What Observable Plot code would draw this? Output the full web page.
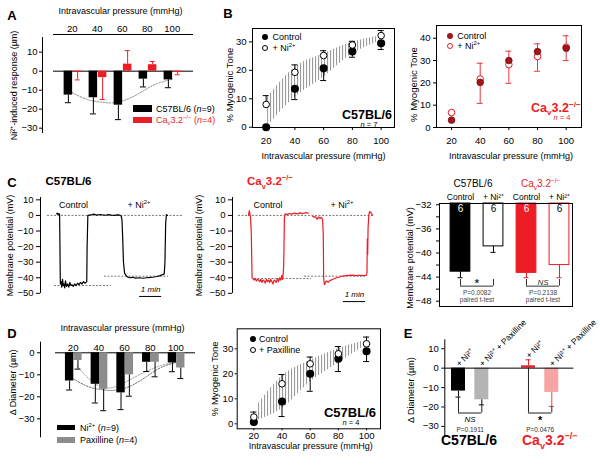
<!DOCTYPE html>
<html>
<head>
<meta charset="utf-8">
<script src="https://cdn.jsdelivr.net/npm/d3@7"></script>
<script src="https://cdn.jsdelivr.net/npm/@observablehq/plot@0.6"></script>
<style>
  html, body { margin: 0; padding: 0; background: #fff; }
  #fig { position: relative; width: 600px; height: 470px; overflow: hidden; background: #fff;
         font-family: "Liberation Sans", Arial, Helvetica, sans-serif; color: #000; }
  #fig > svg { position: absolute; left: 0; top: 0; overflow: visible; background: transparent; }
  .lab { position: absolute; white-space: nowrap; line-height: 1; }
  .lab sub, .lab sup { font-size: 65%; line-height: 0; }
  .box { position: absolute; box-sizing: border-box; }
</style>
</head>
<body>
<div id="fig"></div>
<script>
// ======================= DATA =======================
const pressures = [20, 40, 60, 80, 100];

// Panel A: Ni2+-induced response (um)
const aWt = [-12.6, -14.0, -17.9, -4.2, -4.6];
const aWtErr = [-16.6, -22.5, -25.5, -8.3, -8.7];
const aKo = [-0.7, -3.4, 3.7, 3.4, -0.7];
const aKoErr = [-4.6, -14.9, 10.8, 5.1, -1.9];
const aFitP = [20, 32, 43, 53, 65, 77, 88, 100];
const aFitV = [-11.3, -14.9, -16.3, -16.6, -14.5, -10.3, -6.5, -4.3];

// Panel B left: C57BL/6 myogenic tone (%)
const bCtrl = [0, 13.5, 20.7, 26.6, 29.5];
const bCtrlLo = [0, 9.7, 16.4, 24.6, 27.3];
const bNi = [8.0, 19.3, 25.2, 28.9, 32.2];
const bNiHi = [11.1, 21.9, 26.9, 30.2, 34.0];
const bBandP = [21, 40, 60, 80, 97];
const bBandLo = [0.3, 10.5, 17.6, 25.8, 29.9];
const bBandHi = [10.5, 21.0, 25.8, 29.9, 31.9];

// Panel B right: Cav3.2-/- myogenic tone (%)
const brCtrl = [3.3, 20.2, 30.0, 34.0, 35.5];
const brCtrlHi = [3.3, 28.8, 34.2, 37.5, 41.1];
const brNi = [6.7, 21.7, 28.2, 31.8, 36.0];
const brNiLo = [6.7, 10.8, 19.8, 25.2, 30.0];

// Panel C traces: time (s), membrane potential (mV)
const cBlkT = [25, 27, 29, 31, 33, 34, 35, 37, 39, 41, 43, 45, 47, 49, 52, 55, 58, 61, 64, 67, 70, 74, 78, 82, 86, 90, 94, 98, 102, 105, 107, 108, 110, 118, 126, 134, 142, 150, 158, 166, 174, 182, 190, 197, 201, 203, 205, 207, 210, 214, 218, 224, 232, 240, 250, 260, 270, 280, 290, 298, 305, 310, 314, 318, 320, 322, 324, 327];
const cBlkV = [1, 1.5, 0.5, 1.2, 0.5, -20, -44, -42.5, -46, -41, -45, -44, -46.5, -42, -45.5, -44, -46, -43, -45, -44.5, -45.5, -44, -45, -43.5, -44.5, -43, -44, -42.5, -43.5, -43, -42.5, -20, 0, 0.3, 0.8, 0.2, 0.6, 0.3, 0.1, 0.5, 0.2, 0, 0.4, 0.2, -0.5, -3, -15, -30, -37, -38.5, -39.5, -40, -39.7, -40.2, -40, -40.3, -40, -39.8, -39.5, -39.2, -38.8, -38.3, -38, -37.5, -30, -5, 0.5, 0];
const cBlkRefV = [0, -45, -39];
const cBlkRefT1 = [0, 19, 155];
const cBlkRefT2 = [371, 174, 330];
const cBlkScale = {t1: 251, t2: 311, v: -52};

const cRedT = [27, 29, 30, 31, 33, 35, 37, 40, 43, 46, 49, 52, 55, 58, 61, 64, 67, 70, 73, 76, 79, 82, 85, 88, 91, 94, 97, 100, 103, 106, 109, 112, 115, 118, 120, 122, 123, 124, 125, 127, 132, 138, 145, 152, 160, 168, 176, 184, 191, 196, 202, 206, 210, 214, 218, 222, 226, 229, 231, 232, 234, 237, 240, 244, 248, 252, 257, 262, 268, 275, 282, 290, 300, 310, 320, 330, 340, 348, 350, 351, 352, 353, 355, 357, 360, 363, 365];
const cRedV = [0, 2.5, 3, 1, -1.5, -12, -40, -40.5, -41.5, -40.5, -42, -41, -41.5, -42.5, -41, -43, -41.5, -42, -43.5, -41, -42.5, -41.5, -43, -41, -42.5, -44, -41.5, -42, -43, -40.5, -42.5, -40, -41.5, -38.5, -41, -37, -33, -20, -2, 1, 0.5, 1.2, 0.8, 1.5, 1, 1.6, 1.2, 1.8, 1.4, NaN, -0.5, -1.2, -0.8, -2.5, -1, -2, -1.3, -2.5, -12, -40, -44.5, -43, -42, -43, -42, -41.5, -41, -40.5, -40, -39.5, -39, -38.8, -38.5, -38.3, -38.6, -38.4, -38.6, -38.5, -37, -15, -25, -8, 0, 2.5, 2, 1, 0];
const cRedRefV = [0, -40.5, -39];
const cRedRefT1 = [0, 44, 180];
const cRedRefT2 = [365, 199, 346];
const cRedScale = {t1: 286, t2: 346, v: -55.3};

// Panel C bars: membrane potential (mV)
const cTreat = ["Control", "+ Ni²⁺", "Control", "+ Ni²⁺"];
const cVm = [-43.1, -38.9, -43.3, -42.0];
const cVmErr = [-44.1, -39.9, -44.1, -44.1];
const cN = [6, 6, 6, 6];
const cSig = ["*", "NS"];
const cP = ["P=0.0082", "P=0.2138"];
const cTest = ["paired t-test", "paired t-test"];
const cBracketY = [-45.5, -45.5];

// Panel D left: delta diameter (um)
const dNi = [-12.8, -14.3, -18.2, -4.3, -4.6];
const dNiErr = [-16.9, -22.8, -25.8, -8.5, -8.6];
const dPax = [-3.5, -16.6, -10.0, -4.3, -6.9];
const dPaxErr = [-7.4, -26.3, -19.7, -10.9, -11.7];
const dFitNiP = [20, 32, 43, 53, 65, 77, 88, 100];
const dFitNiV = [-11.8, -15.4, -16.8, -17.0, -15.0, -10.8, -6.8, -4.4];
const dFitPaxP = [23, 30, 40, 50, 60, 75, 90, 100];
const dFitPaxV = [-6.0, -10.5, -15.0, -15.8, -13.5, -9.0, -5.5, -4.5];

// Panel D middle: myogenic tone (%) with paxilline
const dmCtrl = [0.7, 8.9, 20.0, 26.0, 29.0];
const dmCtrlLo = [0.7, 2.9, 13.0, 20.9, 24.9];
const dmPax = [2.7, 16.0, 24.0, 28.0, 32.0];
const dmPaxHi = [4.7, 19.7, 26.7, 30.9, 34.7];
const dmBandP = [22, 40, 60, 80, 97];
const dmBandLo = [1.3, 6.0, 16.7, 24.3, 30.5];
const dmBandHi = [7.0, 19.0, 25.3, 30.0, 33.0];

// Panel E: delta diameter (um)
const eTreat = ["+ Ni²⁺", "+ Ni²⁺ + Paxilline", "+ Ni²⁺", "+ Ni²⁺ + Paxilline"];
const eVal = [-11.8, -16.3, 1.2, -12.5];
const eErr = [-14.9, -18.9, 4.3, -19.7];
const eSig = ["NS", "*"];
const eP = ["P=0.1911", "P=0.0476"];
const eBracketY = [-23.1, -23.1];

// ======================= STYLE =======================
const FONT = '"Liberation Sans", Arial, Helvetica, sans-serif';
const RED = "#ee1c25";
const DARKRED = "#a3141b";
const cFill = ["#000", "#fff", RED, "#fff"];
const cStroke = ["#000", "#000", RED, RED];
const cNumColor = ["#fff", "#000", "#fff", "#000"];
const eFill = ["#000", "#b4b4b4", RED, "#f6a4a4"];
const eErrColor = ["#000", "#000", RED, "#e8484e"];

const fig = document.getElementById("fig");

function plot(opts) {
  const svg = Plot.plot({
    width: 600, height: 470,
    style: {fontFamily: FONT, fontSize: "9px", background: "transparent", overflow: "visible"},
    color: {type: "identity"},
    ...opts
  });
  svg.style.position = "absolute";
  svg.style.left = "0px";
  svg.style.top = "0px";
  fig.appendChild(svg);
  return svg;
}
function hatch(svg, id) {
  const ns = "http://www.w3.org/2000/svg";
  const defs = document.createElementNS(ns, "defs");
  defs.innerHTML = `<pattern id="${id}" patternUnits="userSpaceOnUse" width="3" height="6"><rect x="0" y="0" width="1.1" height="6" fill="#9a9a9a"/></pattern>`;
  svg.insertBefore(defs, svg.firstChild);
}
function label(html, x, y, o = {}) {
  const el = document.createElement("div");
  el.className = "lab";
  el.innerHTML = html;
  const tx = o.anchor === "start" ? "0" : o.anchor === "end" ? "-100%" : "-50%";
  el.style.left = x + "px";
  el.style.top = y + "px";
  el.style.fontSize = (o.size || 9) + "px";
  el.style.fontWeight = o.bold ? "bold" : "normal";
  el.style.fontStyle = o.italic ? "italic" : "normal";
  el.style.color = o.color || "#000";
  el.style.transform = `translate(${tx},-50%)`;
  fig.appendChild(el);
}
function box(x, y, w, h, css) {
  const el = document.createElement("div");
  el.className = "box";
  el.style.left = x + "px"; el.style.top = y + "px";
  el.style.width = w + "px"; el.style.height = h + "px";
  Object.assign(el.style, css);
  fig.appendChild(el);
}
function errBars(data, {x, y1, y2, stroke = "#000", half = 3}) {
  return [
    Plot.ruleX(data, {x, y1, y2, stroke, strokeWidth: 1}),
    Plot.ruleY(data, {y: y2, x1: x, x2: x, insetLeft: -half, insetRight: -half, stroke, strokeWidth: 1})
  ];
}
function yTitle(text, dx, dy = 0, size = 9) {
  return Plot.text([text], {text: d => d, frameAnchor: "left", textAnchor: "middle", lineAnchor: "middle", rotate: -90, dx, dy, fontSize: size});
}
const CAV = 'Ca<sub>v</sub>3.2<sup>−/−</sup>';

// ======================= PANEL A =======================
const aTab = pressures.map((p, i) => ({p, wt: aWt[i], wtErr: aWtErr[i], ko: aKo[i], koErr: aKoErr[i]}));
const aFit = aFitP.map((p, i) => ({p, v: aFitV[i]}));
const aX = [-3.8, 117], aY = [-32.8, 19.3];
plot({
  marginLeft: 42, marginRight: 407, marginTop: 34, marginBottom: 337,
  x: {domain: aX, axis: null}, y: {domain: aY, axis: null},
  marks: [
    Plot.ruleY([aY[1]], {insetLeft: 11}),
    Plot.ruleY([0], {insetLeft: 11}),
    Plot.ruleX([aX[0]], {insetTop: 3}),
    Plot.axisX({anchor: "top", ticks: pressures, tickSize: 0, tickPadding: 3, label: null, fontSize: 9.5}),
    Plot.axisY({ticks: [10, 0, -10, -20, -30], tickSize: 3, tickPadding: 2, label: null, fontSize: 9.5}),
    Plot.line(aFit, {x: "p", y: "v", curve: "natural", stroke: "#8a8a8a", strokeDasharray: "1.5,1.5", strokeWidth: 1}),
    Plot.rect(aTab, {x1: d => d.p - 6.5, x2: d => d.p + 0.3, y1: 0, y2: "wt", fill: "#000"}),
    Plot.rect(aTab, {x1: d => d.p + 0.9, x2: d => d.p + 7.7, y1: 0, y2: "ko", fill: RED}),
    ...errBars(aTab, {x: d => d.p - 3.1, y1: "wt", y2: "wtErr", stroke: "#000"}),
    ...errBars(aTab, {x: d => d.p + 4.3, y1: "ko", y2: "koErr", stroke: RED, half: 2.5}),
    Plot.text(["Intravascular pressure (mmHg)"], {text: d => d, frameAnchor: "top", lineAnchor: "middle", dy: -23, dx: 2.5, fontSize: 9}),
    yTitle("Ni²⁺-induced response (µm)", -28, 1.5)
  ]
});
label("A", 12, 15, {bold: true, size: 13});
box(133, 105, 19, 7, {background: "#000"});
label('C57BL/6 (<i>n</i>=9)', 156, 108.5, {anchor: "start", size: 9});
box(133, 117, 19, 6, {background: RED});
label(CAV + ' (<i>n</i>=4)', 156, 120, {anchor: "start", size: 9, color: RED});

// ======================= PANEL B left =======================
const bTab = pressures.map((p, i) => ({p, c: bCtrl[i], cLo: bCtrlLo[i], n: bNi[i], nHi: bNiHi[i]}));
const bBand = bBandP.map((p, i) => ({p, lo: bBandLo[i], hi: bBandHi[i]}));
const bX = [10.5, 109.3], bY = [-0.1, 34.7];
const svgB = plot({
  marginLeft: 252, marginRight: 206, marginTop: 28, marginBottom: 343,
  x: {domain: bX, axis: null}, y: {domain: bY, axis: null},
  marks: [
    Plot.areaY(bBand, {x: "p", y1: "lo", y2: "hi", curve: "monotone-x", fill: "url(#hatchB)"}),
    Plot.frame({stroke: "#000"}),
    Plot.axisX({ticks: pressures, tickSize: 3, tickPadding: 7, label: null, fontSize: 9.5}),
    Plot.axisY({ticks: [0, 10, 20, 30], tickSize: 3, tickPadding: 3, label: null, fontSize: 9.5}),
    ...errBars(bTab.filter(d => d.cLo < d.c), {x: "p", y1: "c", y2: "cLo"}),
    ...errBars(bTab, {x: "p", y1: "n", y2: "nHi"}),
    Plot.dot(bTab, {x: "p", y: "c", r: 3.3, fill: "#000", stroke: "#000"}),
    Plot.dot(bTab, {x: "p", y: "n", r: 3.3, fill: "#fff", stroke: "#000", strokeWidth: 1}),
    Plot.text(["Intravascular pressure (mmHg)"], {text: d => d, frameAnchor: "bottom", lineAnchor: "middle", dy: 29, fontSize: 9}),
    yTitle("% Myogenic Tone", -23, 7, 9.5)
  ]
});
hatch(svgB, "hatchB");
label("B", 228, 13, {bold: true, size: 13});
box(262.3, 34.3, 6, 6, {background: "#000", borderRadius: "50%"});
label("Control", 272.5, 37.3, {anchor: "start", size: 9});
box(262.3, 45.3, 6, 6, {background: "#fff", border: "1px solid #000", borderRadius: "50%"});
label("+ Ni<sup>2+</sup>", 272.5, 48.3, {anchor: "start", size: 9});
label("C57BL/6", 367, 114.8, {bold: true, size: 12.5});
label('<i>n</i> = 7', 369, 125, {size: 7.5});

// ======================= PANEL B right =======================
const brTab = pressures.map((p, i) => ({p, c: brCtrl[i], cHi: brCtrlHi[i], n: brNi[i], nLo: brNiLo[i]}));
const brX = [9.5, 110.7], brY = [0, 45.7];
plot({
  marginLeft: 436, marginRight: 19, marginTop: 25, marginBottom: 343,
  x: {domain: brX, axis: null}, y: {domain: brY, axis: null},
  marks: [
    Plot.frame({stroke: "#000"}),
    Plot.axisX({ticks: pressures, tickSize: 3, tickPadding: 7, label: null, fontSize: 9.5}),
    Plot.axisY({ticks: [0, 10, 20, 30, 40], tickSize: 3, tickPadding: 3, label: null, fontSize: 9.5}),
    ...errBars(brTab.filter(d => d.cHi > d.c), {x: "p", y1: "c", y2: "cHi", stroke: "#e8383e"}),
    ...errBars(brTab.filter(d => d.nLo < d.n), {x: "p", y1: "n", y2: "nLo", stroke: "#e8383e"}),
    Plot.dot(brTab, {x: "p", y: "n", r: 3.3, fill: "#fff", stroke: RED, strokeWidth: 1}),
    Plot.dot(brTab, {x: "p", y: "c", r: 3.3, fill: DARKRED, stroke: "#7a0c10", strokeWidth: 0.8}),
    Plot.text(["Intravascular pressure (mmHg)"], {text: d => d, frameAnchor: "bottom", lineAnchor: "middle", dy: 29, dx: 2, fontSize: 9}),
    yTitle("% Myogenic Tone", -23, 8, 9.5)
  ]
});
box(447, 32.7, 6, 6, {background: DARKRED, borderRadius: "50%"});
label("Control", 457.3, 35.7, {anchor: "start", size: 9});
box(447, 43, 6, 6, {background: "#fff", border: "1px solid " + RED, borderRadius: "50%"});
label("+ Ni<sup>2+</sup>", 457.3, 46, {anchor: "start", size: 9});
label(CAV, 531, 108, {anchor: "start", bold: true, size: 12.5, color: RED});
label('<i>n</i> = 4', 562, 118, {size: 7.5, color: RED});

// ======================= PANEL C traces =======================
function tracePlot(left, T, V, refV, refT1, refT2, scaleBar, color, dom) {
  const refs = refV.map((v, i) => ({v, t1: refT1[i], t2: refT2[i]}));
  return plot({
    marginLeft: left, marginRight: 600 - left - 145, marginTop: 197, marginBottom: 177,
    x: {domain: dom, axis: null}, y: {domain: [-50.1, 11.5], axis: null},
    marks: [
      Plot.ruleX([dom[0]]),
      Plot.axisY({ticks: [10, 0, -10, -20, -30, -40, -50], tickSize: 4, tickPadding: 3, label: null, fontSize: 9.5}),
      Plot.ruleY(refs, {y: "v", x1: "t1", x2: "t2", stroke: "#555", strokeWidth: 0.8, strokeDasharray: "2,1.5"}),
      Plot.line(T, {x: T, y: V, stroke: color, strokeWidth: 1.2}),
      Plot.ruleY([scaleBar], {y: "v", x1: "t1", x2: "t2", stroke: "#000", strokeWidth: 1}),
      Plot.text([scaleBar], {x: d => (d.t1 + d.t2) / 2, y: "v", dy: -7, text: () => "1 min", fontStyle: "italic", fontSize: 8}),
      yTitle("Membrane potential (mV)", left === 40 ? -30 : -33)
    ]
  });
}
tracePlot(40, cBlkT, cBlkV, cBlkRefV, cBlkRefT1, cBlkRefT2, cBlkScale, "#000", [-19, 376]);
tracePlot(232, cRedT, cRedV, cRedRefV, cRedRefT1, cRedRefT2, cRedScale, RED, [-16.3, 378.7]);
label("C", 12, 182, {bold: true, size: 13});
label("C57BL/6", 68.5, 182, {bold: true, size: 11.5});
label(CAV, 247, 182, {anchor: "start", bold: true, size: 11.5, color: RED});
label("Control", 73.5, 205, {size: 9});
label("+ Ni<sup>2+</sup>", 139, 205, {size: 9});
label("Control", 268, 205, {size: 9});
label("+ Ni<sup>2+</sup>", 342, 205, {size: 9});

// ======================= PANEL C bars =======================
const cTab = cVm.map((v, i) => ({pos: i + 1, v, err: cVmErr[i], n: cN[i], treat: cTreat[i], fill: cFill[i], stroke: cStroke[i], num: cNumColor[i]}));
const cBr = cSig.map((s, k) => {
  const a = cTab[2 * k], b = cTab[2 * k + 1];
  return {a: a.pos, b: b.pos, top: Math.min(a.err, b.err) - 0.3, bot: cBracketY[k], sig: s, p: cP[k], test: cTest[k]};
});
const cX = [0.364, 4.394], cY = [-48.88, -31.78];
plot({
  marginLeft: 439, marginRight: 28, marginTop: 203, marginBottom: 164,
  x: {domain: cX, axis: null}, y: {domain: cY, axis: null},
  marks: [
    Plot.rect(cTab, {x1: d => d.pos - 0.3, x2: d => d.pos + 0.3, y1: cY[1], y2: "v", fill: "fill", stroke: "stroke", strokeWidth: 1}),
    ...errBars(cTab, {x: "pos", y1: "v", y2: "err", stroke: "stroke", half: 2.5}),
    Plot.frame({stroke: "#000"}),
    Plot.axisY({ticks: [-32, -36, -40, -44, -48], tickSize: 3, tickPadding: 5, label: null, fontSize: 9.5}),
    Plot.axisY({ticks: [-34, -38, -42, -46], tickSize: 3, tickFormat: () => "", label: null}),
    Plot.text(cTab, {x: "pos", frameAnchor: "top", lineAnchor: "middle", dy: 5.5, text: d => String(d.n), fill: "num", fontSize: 10}),
    Plot.text(cTab, {x: "pos", frameAnchor: "top", lineAnchor: "middle", dy: -6.5, text: "treat", fontSize: 8.5}),
    Plot.ruleX(cBr, {x: "a", y1: "top", y2: "bot", stroke: "#333"}),
    Plot.ruleX(cBr, {x: "b", y1: "top", y2: "bot", stroke: "#333"}),
    Plot.ruleY(cBr, {y: "bot", x1: "a", x2: "b", stroke: "#333"}),
    Plot.text(cBr.filter(d => d.sig === "*"), {x: d => (d.a + d.b) / 2, y: "bot", dy: -3, text: "sig", fontSize: 11, fontWeight: "bold", fill: "#333"}),
    Plot.text(cBr.filter(d => d.sig !== "*"), {x: d => (d.a + d.b) / 2, y: "bot", dy: -4, text: "sig", fontSize: 8, fontStyle: "italic", fill: "#333"}),
    Plot.text(cBr, {x: d => (d.a + d.b) / 2, y: "bot", dy: 6.8, text: "p", fontSize: 6.5, fill: "#444"}),
    Plot.text(cBr, {x: d => (d.a + d.b) / 2, y: "bot", dy: 13.3, text: "test", fontSize: 6.5, fill: "#444"}),
    yTitle("Membrane potential (mV)", -29, 3)
  ]
});
label("C57BL/6", 473, 184, {size: 10});
label(CAV, 521, 184, {anchor: "start", size: 10, color: RED});

// ======================= PANEL D left =======================
const dTab = pressures.map((p, i) => ({p, ni: dNi[i], niErr: dNiErr[i], pax: dPax[i], paxErr: dPaxErr[i]}));
const dFitNi = dFitNiP.map((p, i) => ({p, v: dFitNiV[i]}));
const dFitPax = dFitPaxP.map((p, i) => ({p, v: dFitPaxV[i]}));
const dX = [-5.4, 115.2], dY = [-38.6, 0];
plot({
  marginLeft: 40, marginRight: 405, marginTop: 352.3, marginBottom: 32.7,
  x: {domain: dX, axis: null}, y: {domain: dY, axis: null},
  marks: [
    Plot.ruleY([0], {insetLeft: 15}),
    Plot.ruleX([dX[0]], {insetTop: -10.6}),
    Plot.axisX({anchor: "top", ticks: pressures, tickSize: 0, tickPadding: 1.5, label: null, fontSize: 9.5}),
    Plot.axisY({ticks: [0, -10, -20, -30], tickSize: 3, tickPadding: 3, label: null, fontSize: 9.5}),
    Plot.line(dFitPax, {x: "p", y: "v", curve: "natural", stroke: "#a0a0a0", strokeDasharray: "1.5,1.5", strokeWidth: 1}),
    Plot.line(dFitNi, {x: "p", y: "v", curve: "natural", stroke: "#707070", strokeDasharray: "1.5,1.5", strokeWidth: 1}),
    Plot.rect(dTab, {x1: d => d.p - 6, x2: d => d.p + 0.5, y1: 0, y2: "ni", fill: "#000"}),
    Plot.rect(dTab, {x1: d => d.p + 0.5, x2: d => d.p + 7, y1: 0, y2: "pax", fill: "#8c8c8c"}),
    ...errBars(dTab, {x: d => d.p - 2.75, y1: "ni", y2: "niErr"}),
    ...errBars(dTab, {x: d => d.p + 3.75, y1: "pax", y2: "paxErr"}),
    Plot.text(["Intravascular pressure (mmHg)"], {text: d => d, frameAnchor: "top", lineAnchor: "middle", dy: -24.3, dx: 4.5, fontSize: 9}),
    yTitle("Δ Diameter (µm)", -27, -13)
  ]
});
label("D", 12, 333, {bold: true, size: 13});
box(57, 424.5, 18, 5.5, {background: "#000"});
label('Ni<sup>2+</sup> (<i>n</i>=9)', 80, 427.5, {anchor: "start", size: 9});
box(57, 437, 18, 5.5, {background: "#8c8c8c"});
label('Paxilline (<i>n</i>=4)', 80, 440, {anchor: "start", size: 9});

// ======================= PANEL D middle =======================
const dmTab = pressures.map((p, i) => ({p, c: dmCtrl[i], cLo: dmCtrlLo[i], x: dmPax[i], xHi: dmPaxHi[i]}));
const dmBand = dmBandP.map((p, i) => ({p, lo: dmBandLo[i], hi: dmBandHi[i]}));
const dmX = [8.2, 109.9], dmY = [-2, 38];
const svgDm = plot({
  marginLeft: 236.7, marginRight: 220, marginTop: 328.3, marginBottom: 41.7,
  x: {domain: dmX, axis: null}, y: {domain: dmY, axis: null},
  marks: [
    Plot.areaY(dmBand, {x: "p", y1: "lo", y2: "hi", curve: "monotone-x", fill: "url(#hatchD)"}),
    Plot.frame({stroke: "#000"}),
    Plot.axisX({ticks: pressures, tickSize: 2, tickPadding: 1, label: null, fontSize: 9.5}),
    Plot.axisY({ticks: [0, 10, 20, 30], tickSize: 2, tickPadding: 2, label: null, fontSize: 9.5}),
    ...errBars(dmTab.filter(d => d.cLo < d.c), {x: "p", y1: "c", y2: "cLo"}),
    ...errBars(dmTab, {x: "p", y1: "x", y2: "xHi"}),
    Plot.dot(dmTab, {x: "p", y: "c", r: 3.3, fill: "#000", stroke: "#000"}),
    Plot.dot(dmTab, {x: "p", y: "x", r: 3.3, fill: "#fff", stroke: "#000", strokeWidth: 1}),
    Plot.text(["Intravascular pressure (mmHg)"], {text: d => d, frameAnchor: "bottom", lineAnchor: "middle", dy: 17.8, dx: 2, fontSize: 9}),
    yTitle("% Myogenic Tone", -22.7, 0, 9.5)
  ]
});
hatch(svgDm, "hatchD");
box(250.3, 336.3, 6, 6, {background: "#000", borderRadius: "50%"});
label("Control", 259, 339.3, {anchor: "start", size: 9});
box(250.3, 347, 6, 6, {background: "#fff", border: "1px solid #000", borderRadius: "50%"});
label("+ Paxilline", 259, 350, {anchor: "start", size: 9});
label("C57BL/6", 350, 411.5, {bold: true, size: 13});
label('<i>n</i> = 4', 351, 423, {size: 7.5});

// ======================= PANEL E =======================
const eTab = eVal.map((v, i) => ({pos: Math.floor(i / 2) * 3 + (i % 2) + 1, v, err: eErr[i], lab: eTreat[i], fill: eFill[i], ec: eErrColor[i]}));
const eBr = eSig.map((s, k) => {
  const a = eTab[2 * k], b = eTab[2 * k + 1];
  return {a: a.pos, b: b.pos, ya: Math.min(0, a.err), yb: Math.min(0, b.err), bot: eBracketY[k], sig: s, p: eP[k]};
});
const eX = [0.413, 5.943], eY = [-35.2, 14.6];
plot({
  marginLeft: 444.3, marginRight: 26.7, marginTop: 339.3, marginBottom: 34,
  x: {domain: eX, axis: null}, y: {domain: eY, axis: null},
  marks: [
    Plot.ruleX([eX[0]]),
    Plot.axisY({ticks: [10, 0, -10, -20, -30], tickSize: 3, tickPadding: 3, label: null, fontSize: 9.5}),
    Plot.rect(eTab, {x1: d => d.pos - 0.3, x2: d => d.pos + 0.3, y1: 0, y2: "v", fill: "fill"}),
    ...errBars(eTab, {x: "pos", y1: "v", y2: "err", stroke: "ec", half: 2.5}),
    Plot.ruleY([0]),
    Plot.ruleX(eBr, {x: "a", y1: "ya", y2: "bot", stroke: "#222"}),
    Plot.ruleX(eBr, {x: "b", y1: "yb", y2: "bot", stroke: "#222"}),
    Plot.ruleY(eBr, {y: "bot", x1: "a", x2: "b", stroke: "#222"}),
    Plot.text(eBr.filter(d => d.sig === "*"), {x: d => (d.a + d.b) / 2, y: "bot", dy: 7, text: "sig", fontSize: 11, fontWeight: "bold"}),
    Plot.text(eBr.filter(d => d.sig !== "*"), {x: d => (d.a + d.b) / 2, y: "bot", dy: 6, text: "sig", fontSize: 8, fontStyle: "italic"}),
    Plot.text(eBr, {x: d => (d.a + d.b) / 2, y: "bot", dy: 16.5, text: "p", fontSize: 6.5, fill: "#333"}),
    Plot.text(eTab, {x: "pos", y: d => Math.max(0, d.err, d.v), dy: -3, dx: -1, text: "lab", rotate: -45, textAnchor: "start", fontSize: 8.5}),
    yTitle("Δ Diameter (µm)", -34, 2)
  ]
});
label("E", 408, 333, {bold: true, size: 13});
label("C57BL/6", 469, 440, {bold: true, size: 14});
label(CAV, 522, 440, {anchor: "start", bold: true, size: 14, color: RED});
</script>
</body>
</html>
